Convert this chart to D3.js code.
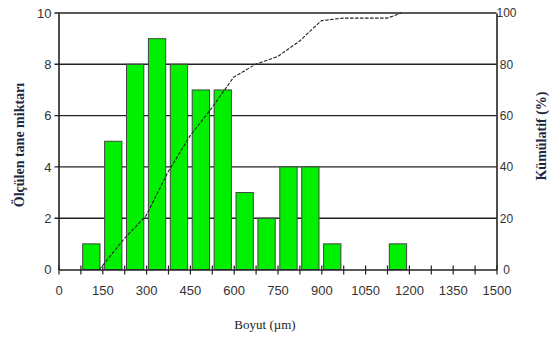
<!DOCTYPE html>
<html>
<head>
<meta charset="utf-8">
<script src="https://cdn.jsdelivr.net/npm/d3@7"></script>
<style>
  html, body { margin: 0; padding: 0; background: #fff; }
  svg { display: block; }
</style>
</head>
<body>
<svg id="chart" width="551" height="340"></svg>
<script>
// Size classes (lower edge of each 75 µm bin) and measured grain counts
const binStarts = [75, 150, 225, 300, 375, 450, 525, 600, 675, 750, 825, 900, 975, 1050, 1125];
const counts    = [1, 5, 8, 9, 8, 7, 7, 3, 2, 4, 4, 1, 0, 0, 1];
const binWidth = 75;

// Cumulative curve (size in µm, cumulative %)
const cumSizes = [140, 225, 300, 375, 450, 525, 600, 675, 750, 825, 900, 975, 1125, 1175];
const cumPct   = [0, 12, 21, 38, 52, 63, 75, 80, 83, 89, 97, 98, 98, 100];

// Axis ticks
const xTicks = d3.range(0, 1501, 75);
const xLabels = [0, 150, 300, 450, 600, 750, 900, 1050, 1200, 1350, 1500];
const leftTicks = [0, 2, 4, 6, 8, 10];
const rightTicks = [0, 20, 40, 60, 80, 100];

const svg = d3.select("#chart");
const plot = { left: 58.5, right: 496.5, top: 13, bottom: 269.5 };

const x = d3.scaleLinear().domain([0, 1500]).range([plot.left, plot.right]);
const yL = d3.scaleLinear().domain([0, 10]).range([plot.bottom, plot.top]);
const yR = d3.scaleLinear().domain([0, 100]).range([plot.bottom, plot.top]);

const tickFont = "'Liberation Sans Narrow', 'Arial Narrow', 'Liberation Sans', sans-serif";
const titleFont = "'Liberation Serif', 'Times New Roman', serif";
const ink = "#222";

// Horizontal gridlines at the left-axis ticks
svg.append("g")
  .selectAll("line")
  .data(leftTicks.filter(d => d > 0))
  .join("line")
  .attr("x1", plot.left - 4).attr("x2", plot.right)
  .attr("y1", d => yL(d)).attr("y2", d => yL(d))
  .attr("stroke", ink).attr("stroke-width", 1.4);

// Histogram bars
const pad = 2.3;
svg.append("g")
  .selectAll("rect")
  .data(binStarts.map((s, i) => ({ s, c: counts[i] })).filter(d => d.c > 0))
  .join("rect")
  .attr("x", d => x(d.s) + pad)
  .attr("width", d => x(d.s + binWidth) - x(d.s) - 2 * pad)
  .attr("y", d => yL(d.c))
  .attr("height", d => yL(0) - yL(d.c))
  .attr("fill", "#00f000")
  .attr("stroke", "#444")
  .attr("stroke-width", 1);

// Cumulative curve
const line = d3.line().x(d => x(d[0])).y(d => yR(d[1]));
svg.append("path")
  .datum(cumSizes.map((s, i) => [s, cumPct[i]]))
  .attr("d", line)
  .attr("fill", "none")
  .attr("stroke", "#222")
  .attr("stroke-width", 1.1)
  .attr("stroke-dasharray", "3.5,1.5");

// Bottom axis: tick every 75 µm, label every 150 µm
const xAxis = d3.axisBottom(x)
  .tickValues(xTicks)
  .tickSize(0)
  .tickFormat(d => xLabels.includes(d) ? d : "");
const gx = svg.append("g").attr("transform", `translate(0,${plot.bottom})`).call(xAxis);
gx.select(".domain").attr("stroke", ink).attr("stroke-width", 1.6);
gx.selectAll(".tick line").attr("y1", -4).attr("y2", 5).attr("stroke", ink).attr("stroke-width", 1.2);
gx.selectAll(".tick text")
  .attr("y", 21)
  .attr("dy", "0.32em")
  .attr("fill", "#333")
  .style("font-family", tickFont)
  .style("font-size", "13px");

// Left axis
const yAxisL = d3.axisLeft(yL).tickValues(leftTicks).tickSize(0).tickPadding(7);
const gyL = svg.append("g").attr("transform", `translate(${plot.left},0)`).call(yAxisL);
gyL.select(".domain").attr("stroke", ink).attr("stroke-width", 1.6);
gyL.selectAll(".tick text")
  .attr("fill", "#333")
  .style("font-family", tickFont)
  .style("font-size", "13px");

// Right axis
const yAxisR = d3.axisRight(yR).tickValues(rightTicks).tickSize(0).tickPadding(10);
const gyR = svg.append("g").attr("transform", `translate(${plot.right},0)`).call(yAxisR);
gyR.select(".domain").attr("stroke", ink).attr("stroke-width", 1.6);
gyR.selectAll(".tick text")
  .attr("fill", "#333")
  .attr("text-anchor", "middle")
  .style("font-family", tickFont)
  .style("font-size", "12px");

// Axis titles
svg.append("text")
  .attr("transform", "translate(24,145) rotate(-90)")
  .attr("text-anchor", "middle")
  .attr("fill", "#1e2840")
  .style("font-family", titleFont)
  .style("font-weight", "bold")
  .style("font-size", "14px")
  .text("Ölçülen tane miktarı");

svg.append("text")
  .attr("transform", "translate(546,136) rotate(-90)")
  .attr("text-anchor", "middle")
  .attr("fill", "#1e2840")
  .style("font-family", titleFont)
  .style("font-weight", "bold")
  .style("font-size", "14px")
  .text("Kümülatif (%)");

svg.append("text")
  .attr("x", 265).attr("y", 329)
  .attr("text-anchor", "middle")
  .attr("fill", "#222")
  .style("font-family", titleFont)
  .style("font-size", "13px")
  .text("Boyut (µm)");
</script>
</body>
</html>
